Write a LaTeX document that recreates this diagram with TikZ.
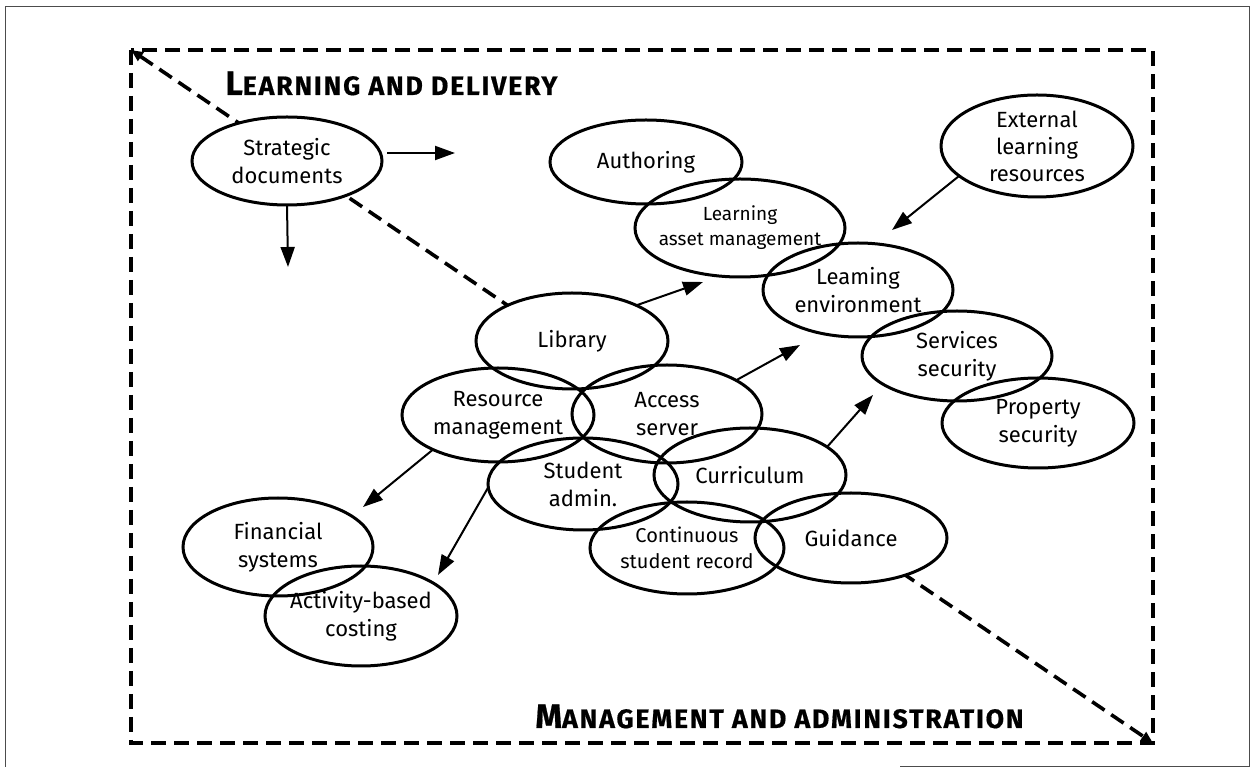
\documentclass[tikz,border=0pt]{standalone}
\usepackage{fontspec}
\setmainfont{Fira Sans}
\usetikzlibrary{shapes.geometric,arrows.meta,calc,backgrounds}

\newcommand{\bigsc}[2]{{\addfontfeatures{LetterSpace=7,FakeBold=0.6}{\fontsize{17}{18}\selectfont #1}{\fontsize{13.3}{14}\selectfont #2}}}

\tikzset{
  blob/.style={ellipse, draw, line width=1.5pt, inner sep=0pt, inner xsep=-8pt, outer sep=0pt,
    align=center, font=\fontsize{11}{14}\selectfont},
  link/.style={line width=1pt, -{Triangle[length=10pt,width=7pt]}},
  dashbox/.style={line width=1.8pt, dash pattern=on 7.5pt off 4pt},
  divider/.style={dashbox, {Triangle[length=6pt,width=5pt]}-{Triangle[length=6pt,width=5pt]}},
}

\begin{document}
\begin{tikzpicture}[x=0.5pt,y=-0.5pt]
  \useasboundingbox (0,0) rectangle (1259,769);

  % frame and dashed box
  \draw[line width=0.5pt, black!70] (5,767) -- (5,7) -- (1249,7) -- (1249,767) -- (900,767);
  \draw[dashbox] (131,50) rectangle (1153,743);
  \coordinate (tl) at (131,50);
  \coordinate (br) at (1153,743);

  % headings
  \node[anchor=base west, font=\bfseries, inner sep=0pt] (ldhead) at (225,95) {\bigsc{L}{EARNING AND DELIVERY}};
  \node[anchor=base west, font=\bfseries, inner sep=0pt] (mahead) at (535,728) {\bigsc{M}{ANAGEMENT AND ADMINISTRATION}};

  % ellipses
  \node[blob, minimum width=95pt, minimum height=44pt] at (287,161) (strat) {Strategic\\documents};
  \node[blob, minimum width=96pt, minimum height=42pt] at (646,162) (auth) {Authoring};
  \node[blob, minimum width=105pt, minimum height=49pt, font=\fontsize{9.5}{12.5}\selectfont] at (740,228) (lam) {Learning\\asset management};
  \node[blob, minimum width=96pt, minimum height=51pt, font=\fontsize{11}{13.5}\selectfont] at (1037,146) (ext) {External\\learning\\resources};
  \node[blob, minimum width=95pt, minimum height=47pt] at (858,290) (lenv) {Leaming\\environment};
  \node[blob, minimum width=95pt, minimum height=45pt] at (957,356) (serv) {Services\\security};
  \node[blob, minimum width=96pt, minimum height=45pt] at (1038,423) (prop) {Property\\security};
  \node[blob, minimum width=96pt, minimum height=48pt] at (572,341) (lib) {Library};
  \node[blob, minimum width=96pt, minimum height=47pt] at (498,415) (res) {Resource\\management};
  \node[blob, minimum width=95pt, minimum height=49pt] at (667,414) (acc) {Access\\server};
  \node[blob, minimum width=95pt, minimum height=46pt] at (583,484) (stu) {Student\\admin.};
  \node[blob, minimum width=96pt, minimum height=47pt] at (750,475) (cur) {Curriculum};
  \node[blob, minimum width=97pt, minimum height=46pt, font=\fontsize{10}{13}\selectfont] at (687,548) (csr) {Continuous\\student record};
  \node[blob, minimum width=96pt, minimum height=45pt] at (851,538) (guid) {Guidance};
  \node[blob, minimum width=95pt, minimum height=49pt] at (278,547) (fin) {Financial\\systems};
  \node[blob, minimum width=96pt, minimum height=50pt] at (361,616) (abc) {Activity-based\\costing};

  % divider behind the ellipses
  \begin{scope}[on background layer]
    \draw[divider] (tl) -- (br);
    \foreach \nd in {strat,auth,lam,ext,lenv,serv,prop,lib,res,acc,stu,cur,csr,guid,fin,abc}
      \fill[white] let \p1=($(\nd.east)-(\nd.center)$), \p2=($(\nd.north)-(\nd.center)$)
        in (\nd.center) ellipse [x radius=\x1, y radius=\y2];
  \end{scope}

  % free arrow ends
  \coordinate (sd1) at (288,267);
  \coordinate (sd2) at (455,153);
  \coordinate (c1) at (703,282);
  \coordinate (c2) at (800,345);
  \coordinate (c3) at (873,395);
  \coordinate (c4) at (892,230);
  \coordinate (c5) at (363,507);
  \coordinate (c6) at (438,575);

  % draw edges
  \draw[link] (strat.south) -- (sd1);
  \draw[link] ($(strat.east)+(5,-8)$) -- (sd2);
  \draw[link] (lib.29) -- (c1);
  \draw[link] (acc.26) -- (c2);
  \draw[link] (cur.20) -- (c3);
  \draw[link] (ext.201) -- (c4);
  \draw[link] (res.208) -- (c5);
  \draw[link] (stu.182) -- (c6);
\end{tikzpicture}
\end{document}
